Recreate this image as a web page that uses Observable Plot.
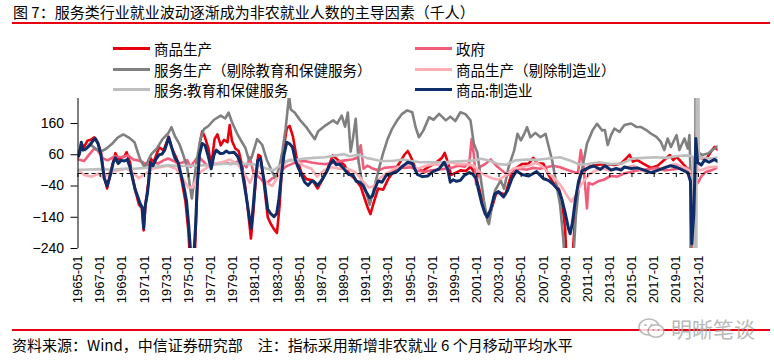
<!DOCTYPE html>
<html><head><meta charset="utf-8">
<script src="https://cdn.jsdelivr.net/npm/d3@7"></script>
<script src="https://cdn.jsdelivr.net/npm/@observablehq/plot@0.6"></script>
<style>
body{margin:0;background:#fff;}
#wrap{position:relative;width:774px;height:360px;font-family:"Noto Sans CJK SC","Liberation Sans",sans-serif;color:#000;overflow:hidden;}
.abs{position:absolute;white-space:nowrap;}
.lg{position:absolute;font-size:14.5px;line-height:16px;white-space:nowrap;}
.lg i{position:absolute;left:-41px;top:6px;width:37px;height:3px;}
</style></head>
<body><div id="wrap">
<div class="abs" style="left:13px;top:3px;font-size:15px;line-height:18px;">图 7：服务类行业就业波动逐渐成为非农就业人数的主导因素（千人）</div>
<div class="abs" style="left:12px;top:22px;width:758px;height:2px;background:#E60012"></div>
<div id="legend"></div>
<div id="chart" class="abs" style="left:0;top:90px"></div>
<div class="abs" style="left:12px;top:329px;width:758px;height:2px;background:#E60012"></div>
<div class="abs" style="left:12px;top:336px;font-size:15px;line-height:18px;">资料来源：Wind，中信证券研究部　注：指标采用新增非农就业 6 个月移动平均水平</div>
<div class="abs" style="left:637px;top:313px;display:flex;align-items:center;opacity:0.8">
<svg width="30" height="24" viewBox="0 0 30 24"><ellipse cx="12" cy="11" rx="10" ry="8" fill="#fff" stroke="#aaa" stroke-width="1.5"/><circle cx="8.5" cy="9" r="1.2" fill="#aaa"/><circle cx="14.5" cy="9" r="1.2" fill="#aaa"/><ellipse cx="19" cy="15" rx="8" ry="6.3" fill="#fff" stroke="#aaa" stroke-width="1.5"/><circle cx="16.5" cy="14" r="1" fill="#aaa"/><circle cx="21.5" cy="14" r="1" fill="#aaa"/></svg>
<span style="font-size:21px;color:#a8a8a8;margin-left:4px;">明晰笔谈</span></div>
</div>
<script>
const seriesNames = ["商品生产","政府","服务生产（剔除教育和保健服务）","商品生产（剔除制造业）","服务:教育和保健服务","商品:制造业"];
const seriesColors = ["#E8000E","#F25C7A","#808080","#FFADB5","#BEBEBE","#0E2D69"];
const xTicks = d3.range(1965, 2022, 2);
const yTicks = [-240, -140, -40, 60, 160];

// Readings were taken on a 11.2 px/year grid; the reference axis is 11.08 px/year starting half a pixel left.
const readScale = 11.2 / 11.08, readOffset = 0.5 / 11.08;
const toYear = t => 1965 + readOffset + (t - 1965) * readScale;

// 商品生产 (goods-producing)
const goods = [[1965.0,60],[1965.25,95],[1965.5,85],[1965.8,105],[1966.1,108],[1966.4,116],[1966.7,100],[1967.0,70],[1967.3,-10],[1967.55,-48],[1967.8,-10],[1968.05,30],[1968.3,65],[1968.55,45],[1968.8,50],[1969.1,55],[1969.3,68],[1969.6,35],[1969.85,-15],[1970.1,-58],[1970.4,-100],[1970.65,-110],[1970.82,-182],[1970.98,-100],[1971.25,-25],[1971.4,50],[1971.7,36],[1971.95,60],[1972.2,84],[1972.6,74],[1973.05,118],[1973.35,80],[1973.8,45],[1974.2,-20],[1974.55,-90],[1974.8,-180],[1975.0,-300],[1975.35,-300],[1975.6,-45],[1975.85,100],[1976.05,135],[1976.3,115],[1976.6,80],[1976.85,25],[1977.15,110],[1977.4,125],[1977.7,90],[1978.0,108],[1978.3,100],[1978.5,155],[1978.7,105],[1979.0,80],[1979.3,72],[1979.6,28],[1979.9,-45],[1980.15,-125],[1980.4,-208],[1980.62,-120],[1980.85,-10],[1981.05,60],[1981.25,55],[1981.55,-30],[1981.9,-140],[1982.15,-160],[1982.45,-178],[1982.72,-190],[1982.95,-105],[1983.15,10],[1983.4,100],[1983.6,145],[1983.85,152],[1984.15,118],[1984.45,55],[1984.9,3],[1985.35,-18],[1985.9,-22],[1986.35,-48],[1986.8,-18],[1987.3,20],[1987.7,58],[1988.2,42],[1988.75,27],[1989.15,0],[1989.7,-18],[1990.2,-42],[1990.55,-80],[1990.85,-112],[1991.07,-130],[1991.3,-100],[1991.75,-48],[1992.2,-52],[1992.65,-18],[1993.1,5],[1993.6,30],[1994.1,60],[1994.4,72],[1994.65,55],[1995.1,15],[1995.7,8],[1996.3,22],[1996.9,34],[1997.45,50],[1997.7,66],[1998.05,28],[1998.25,-5],[1998.7,3],[1999.1,10],[1999.6,8],[2000.0,22],[2000.4,0],[2000.75,-45],[2001.1,-95],[2001.4,-125],[2001.65,-135],[2001.95,-105],[2002.3,-62],[2002.7,-62],[2003.1,-68],[2003.6,-8],[2004.0,16],[2004.6,30],[2005.2,32],[2005.6,50],[2006.0,32],[2006.5,32],[2006.9,0],[2007.4,-30],[2007.9,-50],[2008.15,-82],[2008.45,-176],[2008.6,-300],[2009.05,-300],[2009.4,-110],[2009.8,-5],[2010.2,8],[2010.8,28],[2011.4,28],[2012.0,30],[2012.85,27],[2013.45,32],[2013.9,48],[2014.2,60],[2014.5,38],[2014.9,43],[2015.5,30],[2016.1,18],[2016.7,25],[2017.3,43],[2017.8,59],[2018.1,43],[2018.4,53],[2018.95,32],[2019.4,14],[2019.64,-20],[2019.76,-330],[2019.94,-200],[2020.12,130],[2020.28,50],[2020.6,50],[2021.05,46],[2021.5,72],[2021.8,85],[2022.1,75]];

// 政府 (government)
const government = [[1965.0,45],[1965.5,40],[1965.9,58],[1966.4,80],[1966.7,74],[1967.2,48],[1967.6,42],[1968.2,55],[1968.8,52],[1969.4,58],[1969.9,45],[1970.3,42],[1970.8,35],[1971.2,27],[1971.7,35],[1972.1,32],[1972.6,42],[1973.0,48],[1973.5,40],[1973.9,32],[1974.3,35],[1974.7,43],[1975.0,21],[1975.3,37],[1975.7,55],[1976.1,40],[1976.5,25],[1976.9,30],[1977.4,33],[1978.0,35],[1978.6,30],[1979.2,38],[1979.7,30],[1980.0,20],[1980.3,52],[1980.6,5],[1980.9,-5],[1981.3,-18],[1981.6,-32],[1981.9,-28],[1982.3,-15],[1982.7,-10],[1983.0,5],[1983.5,22],[1984.0,30],[1984.6,38],[1985.2,40],[1985.8,35],[1986.4,32],[1987.0,30],[1987.6,33],[1988.2,38],[1988.8,42],[1989.4,45],[1989.9,50],[1990.2,90],[1990.45,15],[1990.8,25],[1991.3,15],[1991.8,10],[1992.3,18],[1992.9,20],[1993.5,22],[1994.1,18],[1994.7,20],[1995.3,10],[1995.9,5],[1996.5,10],[1997.1,12],[1997.7,15],[1998.3,18],[1998.9,25],[1999.5,22],[1999.9,35],[2000.1,110],[2000.3,60],[2000.5,-35],[2000.8,20],[2001.3,30],[2001.8,45],[2002.3,25],[2002.8,10],[2003.3,-5],[2003.8,5],[2004.4,15],[2005.0,12],[2005.6,18],[2006.2,15],[2006.8,20],[2007.4,25],[2008.0,20],[2008.6,12],[2009.2,5],[2009.6,2],[2009.85,75],[2010.1,20],[2010.4,-112],[2010.55,-30],[2010.9,-35],[2011.4,-25],[2011.9,-20],[2012.5,-8],[2013.1,-10],[2013.7,0],[2014.3,5],[2014.9,10],[2015.5,12],[2016.1,15],[2016.7,18],[2017.3,10],[2017.9,12],[2018.5,15],[2019.1,18],[2019.6,15],[2019.76,-170],[2019.9,-60],[2020.1,-35],[2020.3,-30],[2020.6,-10],[2021.0,5],[2021.5,10],[2022.1,20]];

// 服务生产（剔除教育和保健服务）
const servicesExEdu = [[1965.0,70],[1965.3,80],[1965.6,75],[1966.0,95],[1966.5,80],[1967.0,70],[1967.5,80],[1968.0,95],[1968.5,115],[1969.0,125],[1969.5,115],[1970.0,100],[1970.5,45],[1970.9,20],[1971.2,40],[1971.5,62],[1972.0,80],[1972.5,110],[1973.0,128],[1973.3,148],[1973.6,120],[1974.0,95],[1974.3,65],[1974.7,20],[1974.95,-40],[1975.12,-80],[1975.3,-30],[1975.5,30],[1975.9,112],[1976.2,142],[1976.6,152],[1977.1,172],[1977.7,185],[1978.1,176],[1978.4,195],[1978.7,165],[1979.2,125],[1979.6,100],[1979.9,82],[1980.2,45],[1980.45,50],[1980.95,110],[1981.4,92],[1981.8,45],[1982.3,5],[1982.6,-15],[1982.9,15],[1983.2,70],[1983.5,145],[1983.7,215],[1983.8,250],[1983.95,205],[1984.3,195],[1984.8,170],[1985.3,150],[1985.8,125],[1986.1,110],[1986.4,135],[1987.1,155],[1987.74,170],[1988.1,160],[1988.5,185],[1988.8,150],[1989.05,195],[1989.3,70],[1989.5,110],[1989.75,175],[1990.0,40],[1990.3,-25],[1990.7,-60],[1991.0,-100],[1991.3,-60],[1991.75,5],[1992.2,65],[1992.6,110],[1993.0,143],[1993.45,170],[1993.9,191],[1994.35,202],[1994.8,196],[1995.1,148],[1995.4,116],[1995.8,138],[1996.3,180],[1996.7,172],[1997.2,191],[1997.8,170],[1998.2,182],[1998.65,168],[1999.1,196],[1999.55,190],[2000.0,170],[2000.3,95],[2000.6,68],[2000.9,-12],[2001.2,-86],[2001.5,-150],[2001.65,-162],[2001.9,-108],[2002.2,-54],[2002.7,-22],[2003.0,-49],[2003.4,20],[2003.9,74],[2004.2,127],[2004.5,106],[2004.8,127],[2005.05,148],[2005.35,116],[2005.8,130],[2006.25,116],[2006.7,127],[2007.0,84],[2007.3,40],[2007.6,-20],[2008.0,-100],[2008.3,-214],[2008.45,-320],[2009.1,-320],[2009.4,-140],[2009.7,-33],[2010.0,20],[2010.4,95],[2010.9,138],[2011.3,159],[2011.75,138],[2012.0,139],[2012.25,91],[2012.55,123],[2012.85,144],[2013.3,133],[2013.75,155],[2014.35,160],[2014.8,149],[2015.2,149],[2015.7,139],[2016.1,128],[2016.6,117],[2017.0,101],[2017.3,75],[2017.6,112],[2017.9,85],[2018.4,123],[2018.65,75],[2019.1,112],[2019.4,80],[2019.55,123],[2019.64,5],[2019.72,-2000],[2020.05,-2000],[2020.1,700],[2020.18,700],[2020.25,70],[2020.7,59],[2021.2,64],[2021.6,75],[2022.1,88]];

// 商品生产（剔除制造业）
const goodsExMfg = [[1965.0,10],[1965.5,-5],[1966.2,-10],[1966.8,0],[1967.3,-15],[1967.8,5],[1968.5,10],[1969.3,15],[1969.8,5],[1970.4,-15],[1971.0,0],[1971.6,15],[1972.3,20],[1973.0,25],[1973.7,15],[1974.3,-15],[1974.8,-45],[1975.2,-45],[1975.7,0],[1976.3,15],[1977.0,30],[1977.8,35],[1978.5,45],[1979.2,30],[1979.8,0],[1980.3,-30],[1980.8,10],[1981.3,0],[1981.8,-30],[1982.3,-40],[1982.8,-10],[1983.3,30],[1983.9,45],[1984.5,40],[1985.1,25],[1985.8,15],[1986.3,-10],[1986.9,10],[1987.6,20],[1988.3,15],[1989.0,15],[1989.7,5],[1990.3,-20],[1990.9,-45],[1991.4,-40],[1991.9,-15],[1992.5,0],[1993.2,15],[1994.0,25],[1994.6,30],[1995.3,15],[1996.0,25],[1996.8,30],[1997.5,25],[1998.2,35],[1998.9,30],[1999.6,30],[2000.3,25],[2000.8,5],[2001.3,-5],[2001.9,-15],[2002.5,-20],[2003.2,-5],[2003.8,15],[2004.5,20],[2005.2,25],[2005.9,35],[2006.5,20],[2007.0,0],[2007.5,-15],[2008.1,-40],[2008.6,-70],[2009.0,-90],[2009.4,-70],[2009.8,-40],[2010.2,-20],[2010.7,0],[2011.2,10],[2011.8,15],[2012.5,10],[2013.2,15],[2014.0,20],[2014.6,25],[2015.2,10],[2015.8,5],[2016.4,5],[2017.0,15],[2017.7,25],[2018.3,30],[2019.0,20],[2019.6,8],[2019.76,-160],[2019.94,-60],[2020.12,60],[2020.3,10],[2020.7,12],[2021.3,20],[2022.1,22]];

// 服务:教育和保健服务
const eduHealth = [[1965.0,12],[1966.0,13],[1967.0,14],[1968.0,12],[1969.0,15],[1970.0,15],[1971.0,18],[1972.0,22],[1973.0,26],[1974.0,24],[1975.0,25],[1976.0,26],[1977.0,28],[1978.0,31],[1979.0,31],[1980.0,30],[1981.0,28],[1981.8,15],[1982.4,10],[1983.0,25],[1983.5,40],[1984.0,42],[1985.0,47],[1986.0,50],[1987.0,52],[1988.0,58],[1988.7,62],[1989.2,55],[1990.0,60],[1990.7,50],[1991.4,45],[1992.0,40],[1993.0,40],[1994.0,45],[1994.7,40],[1995.5,36],[1996.5,36],[1997.5,36],[1998.5,38],[1999.5,40],[2000.3,42],[2001.0,47],[2001.8,40],[2002.5,30],[2003.2,28],[2004.0,42],[2005.0,45],[2006.0,44],[2007.0,48],[2008.0,52],[2009.0,40],[2009.8,28],[2010.5,30],[2011.5,36],[2012.5,30],[2013.5,32],[2014.5,48],[2015.5,50],[2016.5,52],[2017.5,50],[2018.5,56],[2019.3,58],[2019.7,56],[2019.9,50],[2019.97,-600],[2020.15,-600],[2020.22,600],[2020.32,600],[2020.38,50],[2020.8,50],[2021.5,48],[2022.1,52]];

// 商品:制造业 (manufacturing)
const manufacturing = [[1965.0,55],[1965.1,65],[1965.25,100],[1965.4,75],[1965.7,80],[1966.0,90],[1966.3,105],[1966.5,112],[1966.75,95],[1967.0,60],[1967.3,-15],[1967.55,-40],[1967.8,-10],[1968.1,35],[1968.3,50],[1968.55,32],[1968.8,42],[1969.1,40],[1969.35,45],[1969.6,20],[1969.85,-20],[1970.05,-50],[1970.3,-75],[1970.5,-96],[1970.7,-110],[1970.82,-175],[1970.95,-105],[1971.15,-65],[1971.3,-15],[1971.42,35],[1971.65,25],[1971.95,48],[1972.2,60],[1972.45,62],[1972.7,75],[1973.05,115],[1973.3,85],[1973.6,50],[1973.9,35],[1974.2,-10],[1974.45,-50],[1974.65,-90],[1974.85,-170],[1975.05,-270],[1975.3,-260],[1975.45,-170],[1975.6,-40],[1975.8,60],[1976.05,96],[1976.3,90],[1976.55,60],[1976.85,15],[1977.1,60],[1977.3,75],[1977.65,64],[1977.95,65],[1978.2,72],[1978.45,66],[1978.9,68],[1979.2,55],[1979.5,30],[1979.8,-35],[1980.05,-90],[1980.25,-140],[1980.42,-175],[1980.6,-105],[1980.8,-20],[1981.0,42],[1981.25,48],[1981.6,-30],[1981.9,-115],[1982.15,-128],[1982.45,-138],[1982.7,-128],[1982.9,-80],[1983.1,-10],[1983.35,60],[1983.6,100],[1983.85,95],[1984.1,85],[1984.35,45],[1984.6,20],[1984.85,0],[1985.2,-28],[1985.5,-38],[1985.8,-25],[1986.0,-25],[1986.35,-38],[1986.7,-22],[1987.15,5],[1987.45,30],[1987.75,42],[1988.0,28],[1988.3,30],[1988.7,15],[1989.1,-3],[1989.5,-5],[1989.8,-25],[1990.1,-28],[1990.4,-38],[1990.7,-60],[1991.0,-78],[1991.25,-72],[1991.45,-50],[1991.75,-24],[1992.1,-28],[1992.5,-5],[1992.95,0],[1993.4,5],[1993.9,22],[1994.4,36],[1994.8,32],[1995.25,-3],[1995.7,-10],[1996.2,-8],[1996.6,5],[1997.2,15],[1997.65,36],[1997.95,15],[1998.2,-28],[1998.45,-20],[1998.75,-25],[1999.1,-22],[1999.45,-6],[1999.9,3],[2000.2,-2],[2000.5,-16],[2000.7,-50],[2001.0,-95],[2001.3,-128],[2001.5,-140],[2001.8,-115],[2002.15,-66],[2002.5,-58],[2002.95,-75],[2003.3,-55],[2003.7,-16],[2004.1,8],[2004.6,-3],[2005.2,-8],[2005.6,0],[2005.9,6],[2006.5,-16],[2006.95,-22],[2007.4,-35],[2007.9,-55],[2008.15,-82],[2008.45,-125],[2008.75,-176],[2008.9,-193],[2009.1,-158],[2009.35,-88],[2009.65,-25],[2009.95,8],[2010.5,18],[2011.0,24],[2011.6,13],[2012.0,25],[2012.55,11],[2013.0,16],[2013.45,11],[2013.75,21],[2014.35,16],[2014.9,18],[2015.5,11],[2016.1,3],[2016.7,10],[2017.3,18],[2017.9,25],[2018.4,20],[2018.95,11],[2019.4,3],[2019.64,-25],[2019.76,-225],[2019.94,-128],[2020.12,112],[2020.28,35],[2020.6,27],[2020.9,43],[2021.3,36],[2021.8,45],[2022.1,38]];

const allSeries = [goods, government, servicesExEdu, goodsExMfg, eduHealth, manufacturing];
const widths = [2.6, 2.6, 2.6, 2.6, 2.6, 3];

// legend (HTML)
const legendPos = [[154,41],[456,41],[154,62],[456,62],[154,82],[456,82]];
const lg = document.getElementById("legend");
seriesNames.forEach((n, i) => {
  const d = document.createElement("div");
  d.className = "lg";
  d.style.left = legendPos[i][0] + "px";
  d.style.top = legendPos[i][1] + "px";
  d.innerHTML = `<i style="background:${seriesColors[i]}"></i>${n}`;
  lg.appendChild(d);
});

const lineMarks = allSeries.map((s, i) => Plot.line(s, {x: d => toYear(d[0]), y: d => d[1], stroke: seriesColors[i], strokeWidth: widths[i], clip: true, strokeLinejoin: "round"}));

const chart = Plot.plot({
  width: 774, height: 225,
  marginTop: 8, marginBottom: 67, marginLeft: 77.5, marginRight: 56.5,
  style: {fontFamily: "'Liberation Sans', Arial, sans-serif", fontSize: "13px", color: "#000", background: "transparent"},
  x: {domain: [1965, toYear(2022.1)]},
  y: {domain: [-240, 240]},
  marks: [
    ...lineMarks,
    Plot.ruleY([0], {stroke: "#000", strokeWidth: 1, strokeDasharray: "4,3"}),
    Plot.ruleX(xTicks, {x: d => d, y1: 0, y2: 0, insetBottom: -4, stroke: "#000", strokeWidth: 1}),
    Plot.ruleX([1965], {stroke: "#000", strokeWidth: 1}),
    Plot.axisY({ticks: yTicks, tickSize: 7, tickPadding: 7, fontSize: 14, stroke: "#000", label: null}),
    Plot.axisX({ticks: xTicks, tickSize: 0, tickPadding: 7, tickRotate: -90, tickFormat: d => `${d}-01`, fontSize: 13, label: null})
  ]
});
document.getElementById("chart").appendChild(chart);
</script>
</body></html>
